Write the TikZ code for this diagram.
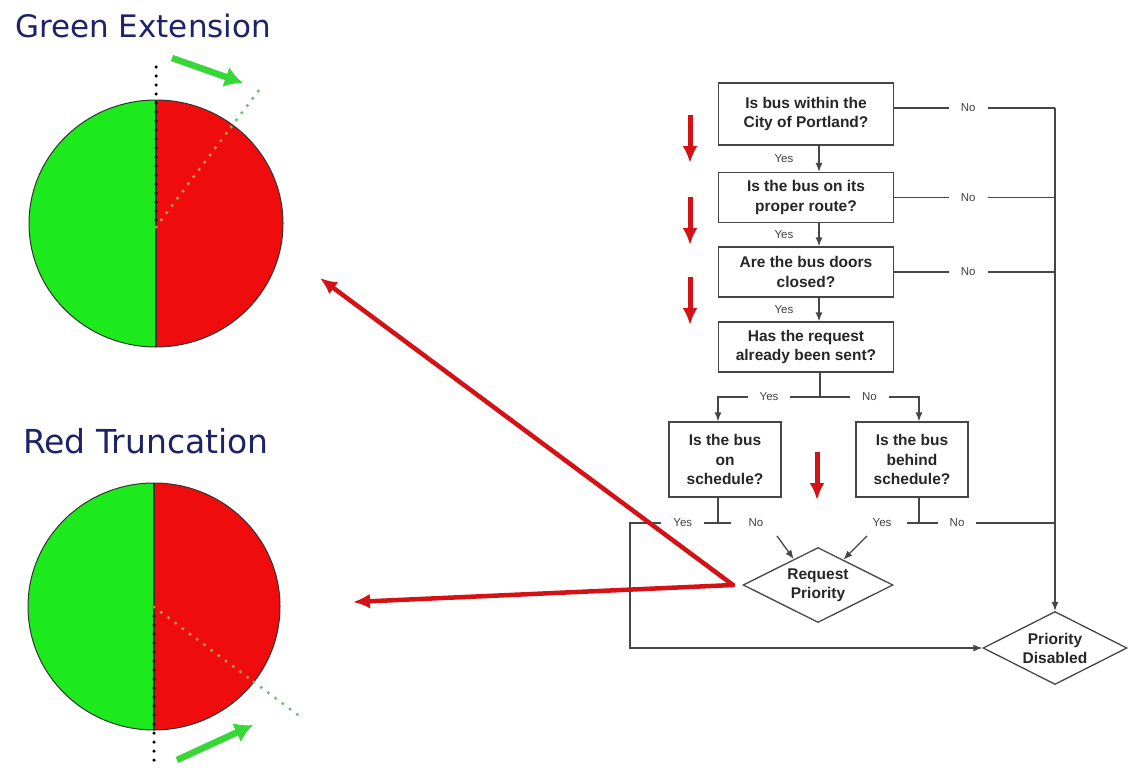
\documentclass[tikz,border=0pt]{standalone}
\usepackage{fontspec}
\setmainfont{Liberation Sans}
\newfontfamily\titlefont{DejaVu Sans}
\usetikzlibrary{shapes.geometric, arrows.meta, positioning}

\definecolor{titleblue}{RGB}{30,35,105}
\definecolor{piegreen}{RGB}{28,234,28}
\definecolor{piered}{RGB}{238,12,12}
\definecolor{arrowred}{RGB}{212,18,22}
\definecolor{arrowgreen}{RGB}{55,215,55}
\definecolor{dotgreen}{RGB}{110,190,110}
\definecolor{dottan}{RGB}{205,150,75}
\definecolor{chartgray}{RGB}{70,70,70}

\tikzstyle{process} = [rectangle, minimum width=175pt, minimum height=50pt, align=center, draw=chartgray, line width=1.3pt, font=\fontsize{15.5}{19.5}\selectfont\bfseries, text=black!85]
\tikzstyle{decision} = [diamond, aspect=2, minimum width=150pt, minimum height=75pt, inner sep=0pt, align=center, draw=chartgray, line width=1.3pt, font=\fontsize{15.5}{19}\selectfont\bfseries, text=black!85]
\tikzstyle{connector} = [line width=1.3pt, draw=chartgray]
\tikzstyle{arrow} = [line width=1.3pt, draw=chartgray, -{Latex[length=9pt,width=7pt]}]
\tikzstyle{ynlabel} = [font=\fontsize{11.5}{13}\selectfont, text=black!75, inner sep=1pt]
\tikzstyle{gaplabel} = [ynlabel, fill=white, inner xsep=12pt]
\tikzstyle{redarrow} = [line width=5pt, draw=arrowred, -{Latex[length=17pt,width=15pt]}]
\tikzstyle{bigarrow} = [line width=4.5pt, draw=arrowred, line cap=round, -{Latex[length=17pt,width=15pt]}]
\tikzstyle{greenarrow} = [line width=6.5pt, draw=arrowgreen, -{Latex[length=18pt,width=21pt]}]
\tikzstyle{dotline} = [line width=3.5pt, line cap=round, dash pattern=on 0pt off 9pt]
\tikzstyle{heading} = [anchor=base west, inner sep=0pt, text=titleblue, font=\titlefont\fontsize{31}{36}\selectfont]

\begin{document}
\begin{tikzpicture}[x=1pt, y=-1pt]

\fill[white] (0,0) rectangle (1131,771);
\useasboundingbox (0,0) rectangle (1131,771);

% green extension
\node (gtitle) [heading] at (15,37) {Green Extension};
\fill[piegreen] (156,100) arc (90:270:127pt and 123.5pt) -- cycle;
\fill[piered] (156,100) arc (90:-90:127pt and 123.5pt) -- cycle;
\draw[black!80, line width=1pt] (156,223.5) ellipse [x radius=127pt, y radius=123.5pt];
\draw[black!80, line width=1.2pt] (156,100) -- (156,347);
\draw[dotline, black] (156,67) -- (156,227);
\draw[dotline, dottan] (156,227) -- (231,127);
\draw[dotline, dotgreen] (231,127) -- (262,86);
\draw[greenarrow] (172,58) -- (243,83);

% red truncation
\node (rtitle) [heading, font=\titlefont\fontsize{33}{38}\selectfont] at (23,453) {Red Truncation};
\fill[piegreen] (154,483) arc (90:270:126pt and 123.5pt) -- cycle;
\fill[piered] (154,483) arc (90:-90:126pt and 123.5pt) -- cycle;
\draw[black!80, line width=1pt] (154,606.5) ellipse [x radius=126pt, y radius=123.5pt];
\draw[black!80, line width=1.2pt] (154,483) -- (154,730);
\draw[dotline, black] (154,607) -- (154,768);
\draw[dotline, dottan] (154,607) -- (254,682);
\draw[dotline, dotgreen] (254,682) -- (302,718);
\draw[greenarrow] (177,760) -- (253,725);

% flowchart
\node (city) [process, minimum height=62pt] at (806,114) {Is bus within the\\City of Portland?};
\node (route) [process] at (806,197.5) {Is the bus on its\\proper route?};
\node (doors) [process] at (806,272) {Are the bus doors\\closed?};
\node (sent) [process] at (806,347) {Has the request\\already been sent?};
\node (ontime) [process, minimum width=112pt, minimum height=75pt] at (725,459.5) {Is the bus\\on\\schedule?};
\node (behind) [process, minimum width=112pt, minimum height=75pt] at (912,459.5) {Is the bus\\behind\\schedule?};
\node (request) [decision] at (818,585) {Request\\Priority};
\node (disabled) [decision, minimum width=144pt, minimum height=73pt] at (1055,648) {Priority\\Disabled};

\coordinate (bus) at (1055,108);
\coordinate (split) at (820,397);
\coordinate (t1) at (718,523);
\coordinate (t2) at (919,523);
\coordinate (loop) at (630,523);
\coordinate (n1) at (777,536);
\coordinate (n2) at (867,536);

\draw [arrow] ([xshift=13pt]city.south) -- node[ynlabel, left=24pt] {Yes} ([xshift=13pt]route.north);
\draw [arrow] ([xshift=13pt]route.south) -- node[ynlabel, left=24pt] {Yes} ([xshift=13pt]doors.north);
\draw [arrow] ([xshift=13pt]doors.south) -- node[ynlabel, left=24pt] {Yes} ([xshift=13pt]sent.north);

\draw [connector] ([yshift=6pt]city.east) -- node[gaplabel, pos=0.46] {No} (bus);
\draw [connector] (route.east) -- node[gaplabel, pos=0.46] {No} (route.east -| bus);
\draw [connector] (doors.east) -- node[gaplabel, pos=0.46] {No} (doors.east -| bus);
\draw [arrow] (bus) -- (disabled.north);

\draw [connector] ([xshift=14pt]sent.south) -- (split);
\draw [arrow] (split) -| node[gaplabel, pos=0.25] {Yes} ([xshift=-7pt]ontime.north);
\draw [arrow] (split) -| node[gaplabel, pos=0.25] {No} ([xshift=7pt]behind.north);

\draw [connector] ([xshift=-7pt]ontime.south) -- (t1);
\draw [connector] (t1) -- ++(13,0);
\draw [arrow] (t1) -- node[gaplabel, pos=0.4] {Yes} (loop) |- (disabled.west);
\node (no1) [ynlabel] at (756,523) {No};
\draw [arrow] (n1) -- (request.133);

\draw [connector] ([xshift=7pt]behind.south) -- (t2);
\draw [connector] (t2) -- ++(-12,0);
\node (yes2) [ynlabel] at (882,523) {Yes};
\draw [connector] (t2) -- node[gaplabel, pos=0.28] {No} (t2 -| bus);
\draw [arrow] (n2) -- (request.45);

% red arrows
\foreach \y in {115,197,277}
  \draw [redarrow] (690,\y) -- ++(0,48);
\draw [redarrow] (817,452) -- (817,500);

\coordinate (apex) at (733,585);
\coordinate (gtip) at (320,278);
\coordinate (rtip) at (353,602);
\draw [bigarrow] (apex) -- (gtip);
\draw [bigarrow] (apex) -- (rtip);

\end{tikzpicture}
\end{document}
